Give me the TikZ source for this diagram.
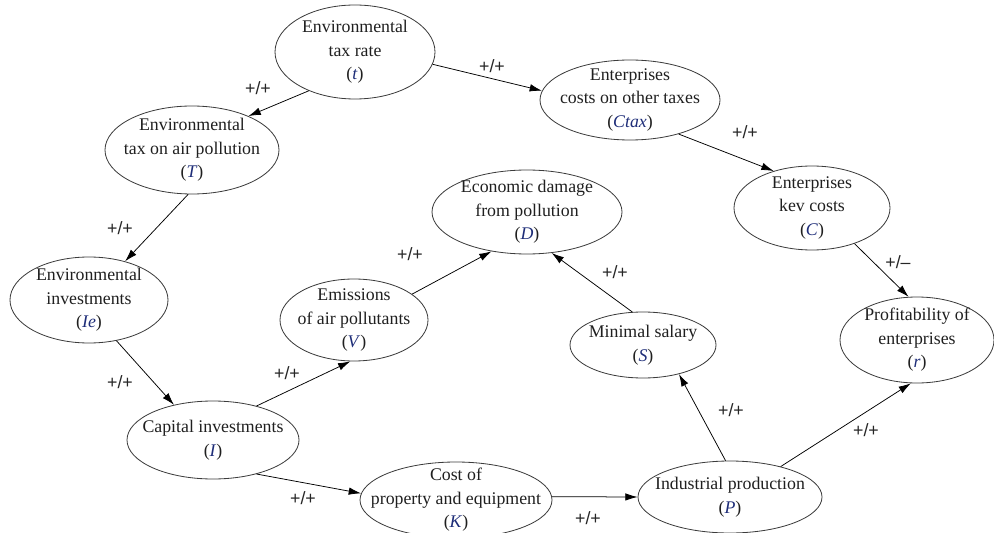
\documentclass[tikz,border=0pt]{standalone}
\usepackage{fontspec}
\setmainfont{Liberation Serif}
\newfontfamily\signfont{Liberation Sans}
\usetikzlibrary{shapes.geometric,arrows.meta}
\definecolor{varblue}{RGB}{30,45,120}
\definecolor{rimgray}{RGB}{60,60,60}
\newcommand{\var}[1]{(\textcolor{varblue}{\textit{#1}})}

\tikzset{
  bubtext/.style={align=center, font=\fontsize{13}{17.2}\selectfont, text=black!88},
  bubble/.style n args={3}{ellipse, draw=rimgray, line width=0.6pt, inner sep=0pt,
    minimum width=#1*0.73pt, minimum height=#2*0.73pt, label={[bubtext]center:{#3}}},
  link/.style={-{Latex[length=9pt,width=5.5pt]}, line width=0.55pt},
  sign/.style={font=\signfont\fontsize{13}{13}\selectfont, text=black!85},
}

\begin{document}
\begin{tikzpicture}[x=0.73pt,y=-0.73pt]
  \useasboundingbox (0,0) rectangle (994,533);

  % ellipses
  \node[bubble={160}{94}{Environmental\\tax rate\\\var{t}}] (t) at (355,52) {};
  \node[bubble={180}{80}{Enterprises\\costs on other taxes\\\var{Ctax}}] (Ctax) at (630,100) {};
  \node[bubble={174}{88}{Environmental\\tax on air pollution\\\var{T}}] (T) at (192,150) {};
  \node[bubble={156}{84}{Enterprises\\kev costs\\\var{C}}] (C) at (812,208) {};
  \node[bubble={190}{84}{Economic damage\\from pollution\\\var{D}}] (D) at (527,212) {};
  \node[bubble={158}{86}{Environmental\\investments\\\var{Ie}}] (Ie) at (89,300) {};
  \node[bubble={148}{82}{Emissions\\of air pollutants\\\var{V}}] (V) at (354,320) {};
  \node[bubble={146}{66}{Minimal salary\\\var{S}}] (S) at (643,345) {};
  \node[bubble={154}{86}{Profitability of\\enterprises\\\var{r}}] (r) at (917,340) {};
  \node[bubble={172}{78}{Capital investments\\\var{I}}] (I) at (213,440) {};
  \node[bubble={192}{76}{Cost of\\property and equipment\\\var{K}}] (K) at (456,500) {};
  \node[bubble={184}{72}{Industrial production\\\var{P}}] (P) at (730,497) {};

  % links
  \draw[link] (t.220) -- (T.31);
  \draw[link] (t.351) -- (Ctax.174);
  \draw[link] (Ctax.325) -- (C.136);
  \draw[link] (T.265) -- (Ie.47);
  \draw[link] (C.320) -- (r.101);
  \draw[link] (Ie.304) -- (I.138);
  \draw[link] (I.38) -- (V.265);
  \draw[link] (V.24) -- (D.228);
  \draw[link] (S.108) -- (D.301);
  \draw[link] (I.322) -- (K.176);
  \draw[link] (K.2) -- (P.180);
  \draw[link] (P.97) -- (S.321);
  \draw[link] (P.31) -- (r.262);

  % signs
  \node[sign] (s1) at (258,88) {+/+};
  \node[sign] (s2) at (492,66) {+/+};
  \node[sign] (s3) at (745,132) {+/+};
  \node[sign] (s4) at (120,228) {+/+};
  \node[sign] (s5) at (898,262) {+/–};
  \node[sign] (s6) at (120,382) {+/+};
  \node[sign] (s7) at (287,373) {+/+};
  \node[sign] (s8) at (410,254) {+/+};
  \node[sign] (s9) at (615,272) {+/+};
  \node[sign] (s10) at (303,498) {+/+};
  \node[sign] (s11) at (588,518) {+/+};
  \node[sign] (s12) at (731,410) {+/+};
  \node[sign] (s13) at (866,430) {+/+};
\end{tikzpicture}
\end{document}
